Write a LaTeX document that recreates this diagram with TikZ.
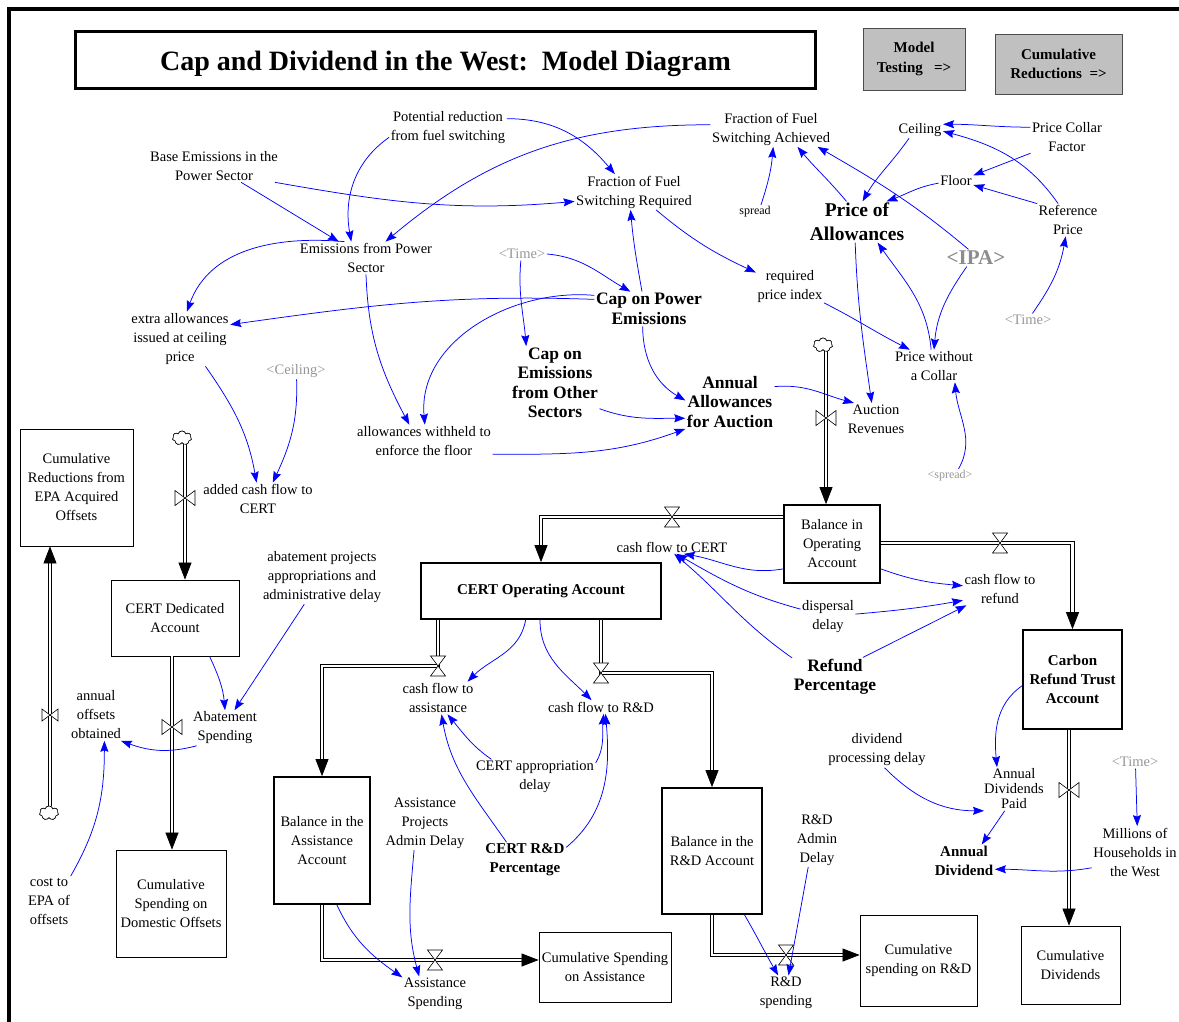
\documentclass[tikz,border=0pt]{standalone}
\usepackage{fontspec}
\setmainfont{Liberation Serif}
\usetikzlibrary{arrows.meta,shapes.symbols}
\newcommand\fReg{\fontsize{14.5}{19}\selectfont}
\newcommand\fTight{\fontsize{14.5}{15}\selectfont}
\newcommand\fSm{\fontsize{12}{15}\selectfont}
\newcommand\fBm{\fontsize{17.5}{19.5}\selectfont\bfseries}
\newcommand\fBs{\fontsize{15}{19}\selectfont\bfseries}
\newcommand\fBtn{\fontsize{15}{19.5}\selectfont\bfseries}
\newcommand\fBig{\fontsize{19.5}{24}\selectfont\bfseries}
\newcommand\fIPA{\fontsize{21}{24}\selectfont\bfseries}
\newcommand\fTitle{\fontsize{28}{32}\selectfont\bfseries}
\definecolor{ghostc}{RGB}{150,150,150}
\definecolor{ipac}{RGB}{140,140,140}
\definecolor{btnc}{RGB}{192,192,192}
\begin{document}
\begin{tikzpicture}[x=1pt,y=1pt,
  var/.style={align=center,font=\fReg,inner sep=1.5pt},
  ghost/.style={var,text=ghostc},
  stock/.style={draw,align=center,font=\fReg,inner sep=0pt,line width=0.8pt},
  stockb/.style={stock,line width=1.7pt},
  btn/.style={draw=black!70,fill=btnc,align=center,font=\fBtn,line width=0.8pt},
  info/.style={draw=blue,line width=0.75pt,-{Stealth[length=11pt,width=8pt,inset=1.5pt]}},
  pipe/.style={draw=black,double=white,double distance=2.6pt,line width=0.75pt,-{Triangle[length=17pt,width=13pt]}},
  cloudy/.style={cloud,cloud puffs=7,aspect=1.3,minimum width=19pt,minimum height=14pt,inner sep=0pt,draw,fill=white,line width=0.6pt},
  valveH/.pic={\draw[fill=white,line width=0.6pt] (-7.5,10) -- (7.5,10) -- (-7.5,-10) -- (7.5,-10) -- cycle;},
  valveV/.pic={\draw[fill=white,line width=0.6pt] (-10,7.5) -- (-10,-7.5) -- (10,7.5) -- (10,-7.5) -- cycle;},
  valveVs/.pic={\draw[fill=white,line width=0.6pt] (-8,6) -- (-8,-6) -- (8,6) -- (8,-6) -- cycle;}
]
\useasboundingbox (0,0) rectangle (1179,-1022);
% frame
\draw[line width=4pt] (9,-1022) -- (9,-9) -- (1179,-9);
% title and buttons
\node[draw,line width=3.5pt,minimum width=740pt,minimum height=57pt,font=\fTitle,text height=27pt,text depth=6pt] (title) at (445.5,-60) {Cap and Dividend in the West:\ \ Model Diagram};
\node[btn,minimum width=102pt,minimum height=62pt] (mt) at (914,-59) {Model\\Testing\ \ \ =>};
\node[btn,minimum width=127pt,minimum height=60pt] (cr) at (1058.5,-64) {Cumulative\\Reductions\ \ =>};

% stocks
\node[stock,minimum width=113pt,minimum height=117pt] (crd) at (76.5,-487.5) {Cumulative\\Reductions from\\EPA Acquired\\Offsets};
\node[stock,minimum width=128pt,minimum height=76pt] (cda) at (175,-618) {CERT Dedicated\\Account};
\node[stockb,minimum width=96pt,minimum height=78pt] (boa) at (832,-544) {Balance in\\Operating\\Account};
\node[stockb,minimum width=240pt,minimum height=56pt,font=\fBs] (cop) at (541,-591) {CERT Operating Account};
\node[stockb,minimum width=99pt,minimum height=99pt,font=\fBs] (crt) at (1072.5,-679.5) {Carbon\\Refund Trust\\Account};
\node[stockb,minimum width=96pt,minimum height=127pt] (bas) at (322,-840.5) {Balance in the\\Assistance\\Account};
\node[stockb,minimum width=100pt,minimum height=126pt] (brd) at (712,-851) {Balance in the\\R\&D Account};
\node[stock,minimum width=110pt,minimum height=107pt] (cdo) at (171,-903.5) {Cumulative\\Spending on\\Domestic Offsets};
\node[stock,minimum width=132pt,minimum height=70pt] (csa) at (605,-967) {Cumulative Spending\\on Assistance};
\node[stock,minimum width=117pt,minimum height=91pt] (csr) at (918.5,-960.5) {Cumulative\\spending on R\&D};
\node[stock,minimum width=99pt,minimum height=78pt] (cdv) at (1070.5,-965) {Cumulative\\Dividends};

% variables
\node[var] (pot) at (448,-128) {Potential reduction\\from fuel switching};
\node[var] (base) at (214,-166) {Base Emissions in the\\Power Sector};
\node[var] (ffsa) at (771,-129) {Fraction of Fuel\\Switching Achieved};
\node[var] (ceil) at (920,-130) {Ceiling};
\node[var] (pcf) at (1067,-137) {Price Collar\\Factor};
\node[var] (floor) at (956,-181) {Floor};
\node[var] (ref) at (1068,-220) {Reference\\Price};
\node[var] (ffsr) at (634,-192) {Fraction of Fuel\\Switching Required};
\node[var,font=\fSm] (spread) at (755,-212) {spread};
\node[var,font=\fBig] (poa) at (857,-222) {Price of\\Allowances};
\node[var,font=\fIPA,text=ipac] (ipa) at (976,-258) {<IPA>};
\node[var] (efps) at (366,-258) {Emissions from Power\\Sector};
\node[ghost] (time1) at (522,-254) {<Time>};
\node[var,font=\fBm] (cpe) at (649,-309) {Cap on Power\\Emissions};
\node[var] (rpi) at (790,-287) {required\\price index};
\node[ghost] (time2) at (1028,-320) {<Time>};
\node[var] (extra) at (180,-339) {extra allowances\\issued at ceiling\\price};
\node[ghost] (ceilg) at (296,-371) {<Ceiling>};
\node[var,font=\fBm] (ceos) at (555,-383) {Cap on\\Emissions\\from Other\\Sectors};
\node[var,font=\fBm] (aaa) at (730,-402) {Annual\\Allowances\\for Auction};
\node[var] (pwc) at (934,-366) {Price without\\a Collar};
\node[var] (ar) at (876,-419) {Auction\\Revenues};
\node[var] (awf) at (424,-441) {allowances withheld to\\enforce the floor};
\node[ghost,font=\fSm] (spreadg) at (950,-476) {<spread>};
\node[var] (acf) at (258,-499) {added cash flow to\\CERT};
\node[var] (apad) at (322,-577) {abatement projects\\appropriations and\\administrative delay};
\node[var] (cfc) at (672,-547) {cash flow to CERT};
\node[var] (cfr) at (1000,-589) {cash flow to\\refund};
\node[var] (dd) at (828,-617) {dispersal\\delay};
\node[var,font=\fBm] (rp) at (835,-677) {Refund\\Percentage};
\node[var] (cfa) at (438,-698) {cash flow to\\assistance};
\node[var] (cfrd) at (601,-707) {cash flow to R\&D};
\node[var] (aoo) at (96,-715) {annual\\offsets\\obtained};
\node[var] (abs) at (225,-728) {Abatement\\Spending};
\node[var] (dpd) at (877,-750) {dividend\\processing delay};
\node[var] (cad) at (535,-777) {CERT appropriation\\delay};
\node[var,font=\fTight] (adp) at (1014,-789) {Annual\\Dividends\\Paid};
\node[var] (apd) at (425,-823) {Assistance\\Projects\\Admin Delay};
\node[var] (rdad) at (817,-840) {R\&D\\Admin\\Delay};
\node[ghost] (time3) at (1135,-762) {<Time>};
\node[var,font=\fBs] (crdp) at (525,-860) {CERT R\&D\\Percentage};
\node[var,font=\fBs] (adiv) at (964,-861) {Annual\\Dividend};
\node[var] (mhw) at (1135,-852) {Millions of\\Households in\\the West};
\node[var] (cost) at (49,-901) {cost to\\EPA of\\offsets};
\node[var] (asp) at (435,-994) {Assistance\\Spending};
\node[var] (rds) at (786,-993) {R\&D\\spending};

% valve positions
\coordinate (v1) at (826,-418);
\coordinate (v2) at (185,-498);
\coordinate (v3) at (172,-727);
\coordinate (v4) at (50,-715);
\coordinate (v5) at (672,-517);
\coordinate (v6) at (1000,-543);
\coordinate (v7) at (438,-666);
\coordinate (v8) at (601,-673);
\coordinate (v9) at (435,-960);
\coordinate (v10) at (786,-955);
\coordinate (v11) at (1069,-790);

% clouds
\node[cloudy] (c1) at (823,-345) {};
\node[cloudy] (c2) at (182,-438) {};
\node[cloudy] (c4) at (49,-813) {};

% pipes
\draw[pipe] (c1.south -| v1) -- (boa.north -| v1);
\draw[pipe] (c2.south -| v2) -- (cda.north -| v2);
\draw[pipe] (cda.south -| v3) -- (cdo.north -| v3);
\draw[pipe] (c4.north -| v4) -- (crd.south -| v4);
\draw[pipe] (boa.west |- v5) -| (cop.north);
\draw[pipe] (boa.east |- v6) -| (crt.north);
\draw[pipe] (cop.south -| v7) -- (v7) -| (bas.north);
\draw[pipe] (cop.south -| v8) -- (v8) -| (brd.north);
\draw[pipe] (bas.south) |- (v9) -- (csa.west |- v9);
\draw[pipe] (brd.south) |- (v10) -- (csr.west |- v10);
\draw[pipe] (crt.south -| v11) -- (cdv.north -| v11);
\node[cloudy] at (c1) {};
\node[cloudy] at (c2) {};
\node[cloudy] at (c4) {};

% valves
\pic at (v1) {valveV};
\pic at (v2) {valveV};
\pic at (v3) {valveV};
\pic at (v4) {valveVs};
\pic at (v5) {valveH};
\pic at (v6) {valveH};
\pic at (v7) {valveH};
\pic at (v8) {valveH};
\pic at (v9) {valveH};
\pic at (v10) {valveH};
\pic at (v11) {valveV};

% information links
\draw[info] (pot.189) to[out=215,in=100] (efps.132);
\draw[info] (pot.9) to[out=0,in=130] (ffsr.137);
\draw[info] (base.-31) -- (efps.149);
\draw[info] (base.-15) to[out=-10,in=185] (ffsr.189);
\draw[info] (ffsa.176) to[out=180,in=40] (efps.40);
\draw[info] (efps.143) to[out=175,in=70] (extra.76);
\draw[info] (efps.-90) to[out=-88,in=118] (awf.132);
\draw[info] (cpe.170) to[out=178,in=8] (extra.16);
\draw[info] (cpe.166) to[out=175,in=95] (awf.87);
\draw[info] (time1.0) to[out=-5,in=150] (cpe.137);
\draw[info] (time1.-100) to[out=-95,in=95] (ceos.128);
\draw[info] (cpe.112) to[out=100,in=-85] (ffsr.-101);
\draw[info] (cpe.-110) to[out=-90,in=150] (aaa.178);
\draw[info] (ffsr.-39) to[out=-40,in=155] (rpi.157);
\draw[info] (ceos.-30) to[out=-20,in=180] (aaa.200);
\draw[info] (awf.-11) to[out=0,in=200] (aaa.211);
\draw[info] (aaa.19) to[out=5,in=165] (ar.144);
\draw[info] (poa.-95) to[out=-88,in=98] (ar.105);
\draw[info] (rpi.-25) to[out=-27,in=153] (pwc.146);
\draw[info] (pwc.100) to[out=95,in=-55] (poa.-45);
\draw[info] (ipa.223) to[out=235,in=85] (pwc.90);
\draw[info] (ipa.131) to[out=140,in=-30] (ffsa.-21);
\draw[info] (spread.50) to[out=72,in=-95] (ffsa.-83);
\draw[info] (poa.117) to[out=130,in=-50] (ffsa.-34);
\draw[info] (ceil.217) to[out=235,in=60] (poa.75);
\draw[info] (floor.187) to[out=190,in=20] (poa.35);
\draw[info] (pcf.165) to[out=180,in=0] (ceil.14);
\draw[info] (pcf.204) -- (floor.18);
\draw[info] (ref.121) to[out=125,in=-15] (ceil.-3);
\draw[info] (ref.152) -- (floor.-13);
\draw[info] (time2.56) to[out=55,in=-100] (ref.-98);
\draw[info] (spreadg.40) to[out=60,in=-85] (pwc.-38);
\draw[info] (extra.-47) to[out=-55,in=100] (acf.95);
\draw[info] (ceilg.-86) to[out=-88,in=65] (acf.48);
\draw[info] (apad.237) -- (abs.62);
\draw[info] (cda.-48) to[out=-65,in=95] (abs.90);
\draw[info] (abs.212) to[out=195,in=-20] (aoo.-46);
\draw[info] (cost.49) to[out=60,in=-90] (aoo.-72);
\draw[info] (boa.207) to[out=190,in=-10] (cfc.-30);
\draw[info] (dd.164) to[out=165,in=-30] (cfc.-57);
\draw[info] (rp.156) to[out=145,in=-40] (cfc.-72);
\draw[info] (boa.-27) to[out=-20,in=175] (cfr.175);
\draw[info] (dd.6) to[out=5,in=190] (cfr.197);
\draw[info] (rp.35) -- (cfr.206);
\draw[info] (cop.242) to[out=-100,in=45] (cfa.29);
\draw[info] (cop.-92) to[out=-90,in=135] (cfrd.144);
\draw[info] (cad.158) to[out=145,in=-50] (cfa.-60);
\draw[info] (cad.13) to[out=60,in=-95] (cfrd.-69);
\draw[info] (crdp.136) to[out=125,in=-80] (cfa.-78);
\draw[info] (crdp.17) to[out=40,in=-85] (cfrd.-57);
\draw[info] (bas.-77) to[out=-65,in=145] (asp.153);
\draw[info] (apd.248) to[out=-95,in=105] (asp.132);
\draw[info] (brd.-63) to[out=-60,in=120] (rds.114);
\draw[info] (rdad.252) -- (rds.82);
\draw[info] (crt.187) to[out=215,in=95] (adp.128);
\draw[info] (dpd.-67) to[out=-45,in=180] (adp.216);
\draw[info] (adp.247) -- (adiv.43);
\draw[info] (mhw.200) to[out=190,in=0] (adiv.-15);
\draw[info] (time3.-85) -- (mhw.85);
\end{tikzpicture}
\end{document}
